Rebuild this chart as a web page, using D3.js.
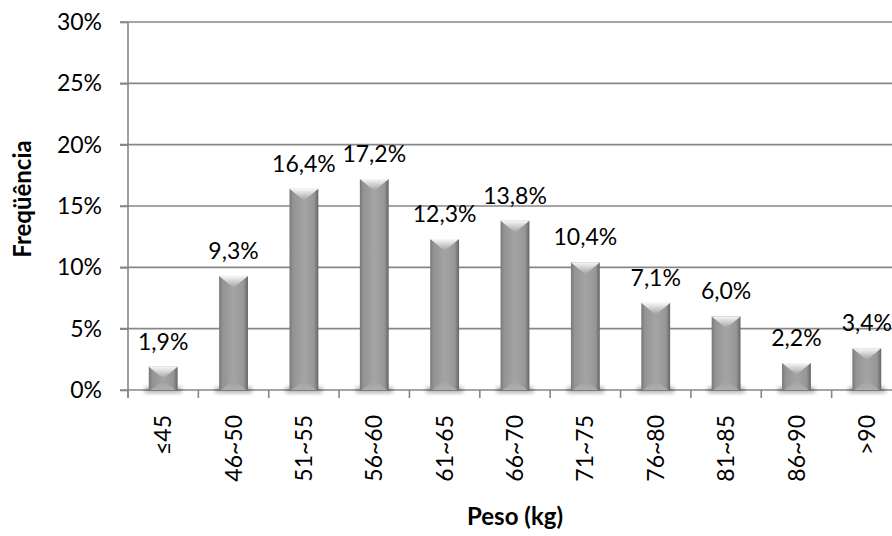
<!DOCTYPE html>
<html>
<head>
<meta charset="utf-8">
<script src="https://cdn.jsdelivr.net/npm/d3@7"></script>
<style>
  html, body { margin: 0; padding: 0; background: #fff; }
  svg { display: block; font-family: Lato, "Open Sans", sans-serif; }
</style>
</head>
<body>
<div id="chart"></div>
<script>
// data
const categories = ["≤45", "46~50", "51~55", "56~60", "61~65", "66~70", "71~75", "76~80", "81~85", "86~90", ">90"];
const frequencies = [1.9, 9.3, 16.4, 17.2, 12.3, 13.8, 10.4, 7.1, 6.0, 2.2, 3.4];
const yTicks = [0, 5, 10, 15, 20, 25, 30];
const xTitle = "Peso (kg)";
const yTitle = "Freqüência";

const width = 892;
const height = 536;
const marginLeft = 128;
const plotRight = 902;   // the plot runs slightly past the window edge
const marginTop = 22;
const plotBottom = 390;

const gridColor = "#878787";
const fontSize = 23;

const svg = d3.select("#chart")
    .append("svg")
    .attr("width", width)
    .attr("height", height);

// Scales
const x = d3.scaleBand()
    .domain(categories)
    .range([marginLeft, plotRight])
    .padding(0);

const y = d3.scaleLinear()
    .domain([0, 30])
    .range([plotBottom, marginTop]);

const barWidth = x.bandwidth() * 0.41;

// Gradients / filters
const defs = svg.append("defs");
const body = defs.append("linearGradient").attr("id", "barBody")
    .attr("x1", "0%").attr("x2", "100%").attr("y1", "0%").attr("y2", "0%");
[[0, "#777777"], [0.12, "#939393"], [0.5, "#a4a4a4"], [0.85, "#979797"], [1, "#656565"]]
    .forEach(([o, c]) => body.append("stop").attr("offset", o).attr("stop-color", c));

const topBevel = defs.append("linearGradient").attr("id", "topBevel")
    .attr("x1", "0%").attr("x2", "0%").attr("y1", "0%").attr("y2", "100%");
[[0, "#f8f8f8"], [0.35, "#dcdcdc"], [1, "#a6a6a6"]]
    .forEach(([o, c]) => topBevel.append("stop").attr("offset", o).attr("stop-color", c));

const botBevel = defs.append("linearGradient").attr("id", "botBevel")
    .attr("x1", "0%").attr("x2", "0%").attr("y1", "0%").attr("y2", "100%");
[[0, "#a0a0a0"], [1, "#b2b2b2"]]
    .forEach(([o, c]) => botBevel.append("stop").attr("offset", o).attr("stop-color", c));

defs.append("filter").attr("id", "blur")
    .attr("x", "-50%").attr("y", "-50%").attr("width", "200%").attr("height", "200%")
    .append("feGaussianBlur").attr("stdDeviation", 2.2);

// Gridlines
svg.append("g")
    .selectAll("line")
    .data(yTicks)
    .enter()
    .append("line")
    .attr("x1", marginLeft - 8)
    .attr("x2", width)
    .attr("y1", d => y(d))
    .attr("y2", d => y(d))
    .attr("stroke", gridColor)
    .attr("stroke-width", 1.6);

// Y axis (labels)
const yAxis = d3.axisLeft(y)
    .tickValues(yTicks)
    .tickSize(8)
    .tickPadding(18)
    .tickFormat(d => d + "%");
const gy = svg.append("g")
    .attr("transform", `translate(${marginLeft},0)`)
    .call(yAxis);
gy.attr("font-family", null).attr("font-size", fontSize);
gy.selectAll("text").attr("fill", "#000");
gy.selectAll("line").attr("stroke", gridColor).attr("stroke-width", 1.6);
gy.select(".domain")
    .attr("d", `M0,${marginTop}V${plotBottom + 8}`)
    .attr("stroke", gridColor).attr("stroke-width", 1.6);

// X axis ticks at band edges
const edges = categories.map(c => x(c));
svg.append("g")
    .selectAll("line")
    .data(edges)
    .enter()
    .append("line")
    .attr("x1", d => d).attr("x2", d => d)
    .attr("y1", plotBottom).attr("y2", plotBottom + 8)
    .attr("stroke", gridColor)
    .attr("stroke-width", 1.6);

// Bars
const bars = svg.append("g")
    .selectAll("g")
    .data(categories.map((c, i) => ({ cat: c, val: frequencies[i] })))
    .enter()
    .append("g");

// soft shadow at the base
bars.append("rect")
    .attr("x", d => x(d.cat) + x.bandwidth() / 2 - barWidth / 2 - 4)
    .attr("y", plotBottom - 3)
    .attr("width", barWidth + 8)
    .attr("height", 6)
    .attr("fill", "#000")
    .attr("opacity", 0.3)
    .attr("filter", "url(#blur)");

bars.append("rect")
    .attr("x", d => x(d.cat) + x.bandwidth() / 2 - barWidth / 2)
    .attr("y", d => y(d.val))
    .attr("width", barWidth)
    .attr("height", d => plotBottom - y(d.val))
    .attr("fill", "url(#barBody)");

// top bevel (light V)
bars.append("path")
    .attr("d", d => {
        const x0 = x(d.cat) + x.bandwidth() / 2 - barWidth / 2;
        const x1 = x0 + barWidth;
        const t = y(d.val);
        const h = Math.min(11, (plotBottom - t) / 2);
        return `M${x0},${t}L${x1},${t}L${(x0 + x1) / 2 + 1},${t + h}L${(x0 + x1) / 2 - 1},${t + h}Z`;
    })
    .attr("fill", "url(#topBevel)");

// bottom bevel (subtle)
bars.append("path")
    .attr("d", d => {
        const x0 = x(d.cat) + x.bandwidth() / 2 - barWidth / 2;
        const x1 = x0 + barWidth;
        const h = Math.min(10, (plotBottom - y(d.val)) / 2);
        return `M${x0 + 2},${plotBottom}L${x1 - 2},${plotBottom}L${(x0 + x1) / 2},${plotBottom - h}Z`;
    })
    .attr("fill", "url(#botBevel)")
    .attr("opacity", 0.8);

// Value labels
bars.append("text")
    .attr("x", d => x(d.cat) + x.bandwidth() / 2)
    .attr("y", d => y(d.val) - 17)
    .attr("text-anchor", "middle")
    .attr("font-size", fontSize)
    .attr("fill", "#000")
    .text(d => d.val.toFixed(1).replace(".", ",") + "%");

// Category labels, rotated
svg.append("g")
    .selectAll("text")
    .data(categories)
    .enter()
    .append("text")
    .attr("transform", d => `translate(${x(d) + x.bandwidth() / 2},415) rotate(-90)`)
    .attr("text-anchor", "end")
    .attr("dy", "0.35em")
    .attr("font-size", fontSize)
    .attr("fill", "#000")
    .text(d => d);

// Axis titles
svg.append("text")
    .attr("x", (marginLeft + plotRight) / 2)
    .attr("y", 525)
    .attr("text-anchor", "middle")
    .attr("font-size", 24)
    .attr("font-weight", "bold")
    .text(xTitle);

svg.append("text")
    .attr("transform", `translate(31,199) rotate(-90)`)
    .attr("text-anchor", "middle")
    .attr("font-size", 24)
    .attr("font-weight", "bold")
    .text(yTitle);
</script>
</body>
</html>
